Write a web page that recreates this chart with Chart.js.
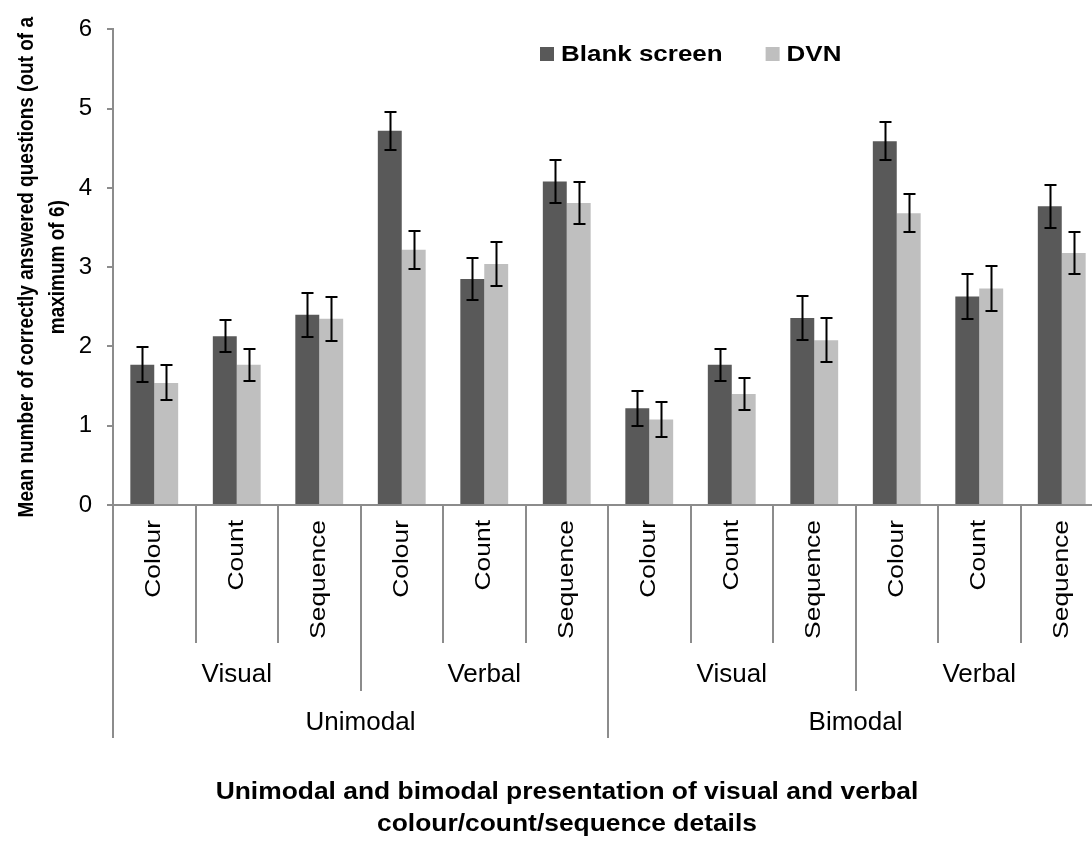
<!DOCTYPE html>
<html>
<head>
<meta charset="utf-8">
<script src="https://cdn.jsdelivr.net/npm/chart.js@4.4.1/dist/chart.umd.min.js"></script>
<style>
  html, body { margin: 0; padding: 0; background: #fff; overflow: hidden; }
  #wrap { position: relative; width: 1092px; height: 841px; overflow: hidden; }
  canvas { display: block; }
</style>
</head>
<body>
<div id="wrap"><canvas id="myChart" width="1106" height="841"></canvas></div>
<script>
// datos
const modes = [ 'Unimodal', 'Bimodal' ]
const channels = [ 'Visual', 'Verbal', 'Visual', 'Verbal' ]
const details = [ 'Colour', 'Count', 'Sequence', 'Colour', 'Count', 'Sequence',
  'Colour', 'Count', 'Sequence', 'Colour', 'Count', 'Sequence' ]
const seriesNames = [ 'Blank screen', 'DVN' ]
const blankScreen = [ 1.77, 2.13, 2.40, 4.72, 2.85, 4.08, 1.22, 1.77, 2.36, 4.59, 2.63, 3.77 ]
const blankErr = [ 0.22, 0.20, 0.28, 0.24, 0.27, 0.27, 0.22, 0.20, 0.28, 0.24, 0.28, 0.27 ]
const dvn = [ 1.54, 1.77, 2.35, 3.22, 3.04, 3.81, 1.08, 1.40, 2.08, 3.68, 2.73, 3.18 ]
const dvnErr = [ 0.22, 0.20, 0.28, 0.24, 0.28, 0.27, 0.22, 0.20, 0.28, 0.24, 0.28, 0.27 ]
const yTicks = [ 0, 1, 2, 3, 4, 5, 6 ]
const yTitle = [ 'Mean number of correctly answered questions (out of a', 'maximum of 6)' ]
const xTitle = [ 'Unimodal and bimodal presentation of visual and verbal', 'colour/count/sequence details' ]

const colors = [ '#595959', '#bfbfbf' ]
const axisColor = '#8c8c8c'
const family = "'Liberation Sans', Arial, sans-serif"

// texto con escala (el original esta algo estirado)
const drawText = ( ctx, text, x, y, sx, sy, rotated ) => {
  ctx.save()
  ctx.translate( x, y )
  if ( rotated ) ctx.rotate( -Math.PI / 2 )
  ctx.scale( sx, sy )
  ctx.fillText( text, 0, 0 )
  ctx.restore()
}

// plugin para barras de error, ejes de varios niveles, titulos y leyenda
const decorations = {
  id: 'decorations',
  afterDatasetsDraw( chart ) {
    const { ctx } = chart
    const y = chart.scales.y
    ctx.save()
    ctx.strokeStyle = '#000'
    ctx.lineWidth = 2
    chart.data.datasets.forEach( ( ds, d ) => {
      chart.getDatasetMeta( d ).data.forEach( ( bar, i ) => {
        const top = Math.round( y.getPixelForValue( ds.data[i] + ds.errors[i] ) )
        const bottom = Math.round( y.getPixelForValue( ds.data[i] - ds.errors[i] ) )
        const x = Math.round( bar.x ) + 0.5
        ctx.beginPath()
        ctx.moveTo( x, top ); ctx.lineTo( x, bottom )
        ctx.moveTo( x - 6, top ); ctx.lineTo( x + 6, top )
        ctx.moveTo( x - 6, bottom ); ctx.lineTo( x + 6, bottom )
        ctx.stroke()
      } )
    } )
    ctx.restore()
  },
  afterDraw( chart ) {
    const { ctx } = chart
    const x = chart.scales.x
    const y = chart.scales.y
    const y0 = Math.round( y.getPixelForValue( 0 ) )
    const step = x.getPixelForValue( 1 ) - x.getPixelForValue( 0 )
    const edge = ( k ) => x.getPixelForValue( 0 ) - step / 2 + k * step

    ctx.save()
    // linea del eje x y separadores
    ctx.strokeStyle = axisColor
    ctx.lineWidth = 2
    ctx.beginPath()
    ctx.moveTo( x.left, y0 ); ctx.lineTo( x.right, y0 )
    for ( let k = 0; k <= details.length; k++ ) {
      const bottom = k % 6 === 0 ? 738 : k % 3 === 0 ? 691 : 643
      const px = Math.round( edge( k ) )
      ctx.moveTo( px, y0 ); ctx.lineTo( px, bottom )
    }
    ctx.stroke()

    ctx.fillStyle = '#000'
    // etiquetas rotadas
    ctx.font = `22px ${family}`
    ctx.textAlign = 'right'
    ctx.textBaseline = 'middle'
    details.forEach( ( label, i ) => {
      drawText( ctx, label, x.getPixelForValue( i ), 520, 1.2, 1, true )
    } )

    ctx.font = `26px ${family}`
    ctx.textAlign = 'center'
    channels.forEach( ( label, g ) => {
      ctx.fillText( label, ( edge( g * 3 ) + edge( g * 3 + 3 ) ) / 2, 675 )
    } )
    modes.forEach( ( label, g ) => {
      ctx.fillText( label, ( edge( g * 6 ) + edge( g * 6 + 6 ) ) / 2, 723 )
    } )

    // titulo del eje x
    ctx.font = `bold 24px ${family}`
    xTitle.forEach( ( line, i ) => drawText( ctx, line, 567, 792 + i * 32, 1.1, 1, false ) )

    // titulo del eje y
    ctx.font = `bold 19px ${family}`
    ctx.textBaseline = 'alphabetic'
    yTitle.forEach( ( line, i ) => {
      drawText( ctx, line, 33 + i * 31, ( y.top + y.bottom ) / 2, 1, 1.15, true )
    } )

    // leyenda
    ctx.font = `bold 22px ${family}`
    ctx.textAlign = 'left'
    ctx.textBaseline = 'middle'
    let lx = 540
    seriesNames.forEach( ( name, i ) => {
      ctx.fillStyle = colors[i]
      ctx.fillRect( lx, 47, 14, 14 )
      ctx.fillStyle = '#000'
      drawText( ctx, name, lx + 21, 55, 1.18, 1, false )
      lx += 21 + ctx.measureText( name ).width * 1.18 + 43
    } )
    ctx.restore()
  }
}

const config = {
  type: 'bar',
  data: {
    labels: details,
    datasets: [
      { label: seriesNames[0], data: blankScreen, errors: blankErr, backgroundColor: colors[0] },
      { label: seriesNames[1], data: dvn, errors: dvnErr, backgroundColor: colors[1] }
    ]
  },
  options: {
    responsive: false,
    animation: false,
    datasets: {
      bar: { categoryPercentage: 0.58, barPercentage: 1, borderWidth: 0 }
    },
    layout: { padding: { top: 25, right: 3, bottom: 336, left: 0 } },
    plugins: {
      legend: { display: false },
      tooltip: { enabled: false }
    },
    scales: {
      x: { display: false },
      y: {
        min: 0,
        max: 6,
        afterFit: ( s ) => { s.width = 113 },
        afterBuildTicks: ( s ) => { s.ticks = yTicks.map( ( v ) => ( { value: v } ) ) },
        ticks: { color: '#000', font: { family: family, size: 24 }, padding: 15 },
        grid: { drawOnChartArea: false, drawTicks: true, tickLength: 6, color: axisColor, lineWidth: 2 },
        border: { display: true, color: axisColor, width: 2 }
      }
    }
  },
  plugins: [ decorations ]
}

new Chart( document.getElementById( 'myChart' ), config )
</script>
</body>
</html>
